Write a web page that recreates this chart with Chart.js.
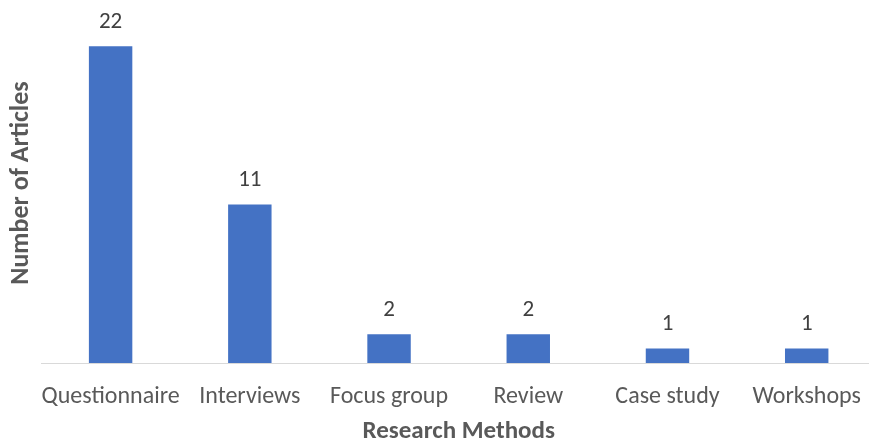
<!DOCTYPE html>
<html>
<head>
<meta charset="utf-8">
<script src="https://cdn.jsdelivr.net/npm/chart.js@4"></script>
<style>
html,body{margin:0;padding:0;background:#fff;overflow:hidden;}
#wrap{width:881px;height:444px;position:relative;}
</style>
</head>
<body>
<div id="wrap"><canvas id="c"></canvas></div>
<script>
const categories = ["Questionnaire", "Interviews", "Focus group", "Review", "Case study", "Workshops"];
const articleCounts = [22, 11, 2, 2, 1, 1];
const xTitle = "Research Methods";
const yTitle = "Number of Articles";

const FONT = "Carlito, 'Open Sans', sans-serif";

const valueLabels = {
  id: 'valueLabels',
  afterDatasetsDraw(chart) {
    const ctx = chart.ctx;
    const meta = chart.getDatasetMeta(0);
    ctx.save();
    ctx.font = "23px " + FONT;
    ctx.fillStyle = "#404040";
    ctx.textAlign = "center";
    ctx.textBaseline = "middle";
    meta.data.forEach((bar, i) => {
      ctx.fillText(String(chart.data.datasets[0].data[i]), bar.x, bar.y - 24);
    });
    ctx.restore();
  }
};

new Chart(document.getElementById('c'), {
  type: 'bar',
  data: {
    labels: categories,
    datasets: [{
      data: articleCounts,
      backgroundColor: '#4472C4',
      borderWidth: 0,
      categoryPercentage: 1.0,
      barPercentage: 0.312
    }]
  },
  options: {
    responsive: true,
    maintainAspectRatio: false,
    animation: false,
    devicePixelRatio: 1,
    layout: { padding: { top: 3, right: 0, left: 0, bottom: 0 } },
    plugins: { legend: { display: false }, tooltip: { enabled: false } },
    scales: {
      x: {
        grid: { display: false, drawTicks: false },
        border: { display: true, color: '#d9d9d9', width: 1 },
        ticks: { color: '#595959', font: { family: FONT, size: 24 }, padding: 20, maxRotation: 0, autoSkip: false },
        title: { display: true, text: xTitle, color: '#595959', font: { family: FONT, size: 25, weight: 'bold' }, padding: { top: 0, bottom: -3 } },
        afterFit(s) { s.height = 81; }
      },
      y: {
        min: 0, max: 25,
        grid: { display: false, drawTicks: false },
        border: { display: false },
        ticks: { display: false },
        title: { display: true, text: yTitle, color: '#595959', font: { family: FONT, size: 26, weight: 'bold' }, padding: { top: 6, bottom: 0 } },
        afterFit(s) { s.width = 41; }
      }
    }
  },
  plugins: [valueLabels]
});
</script>
</body>
</html>
